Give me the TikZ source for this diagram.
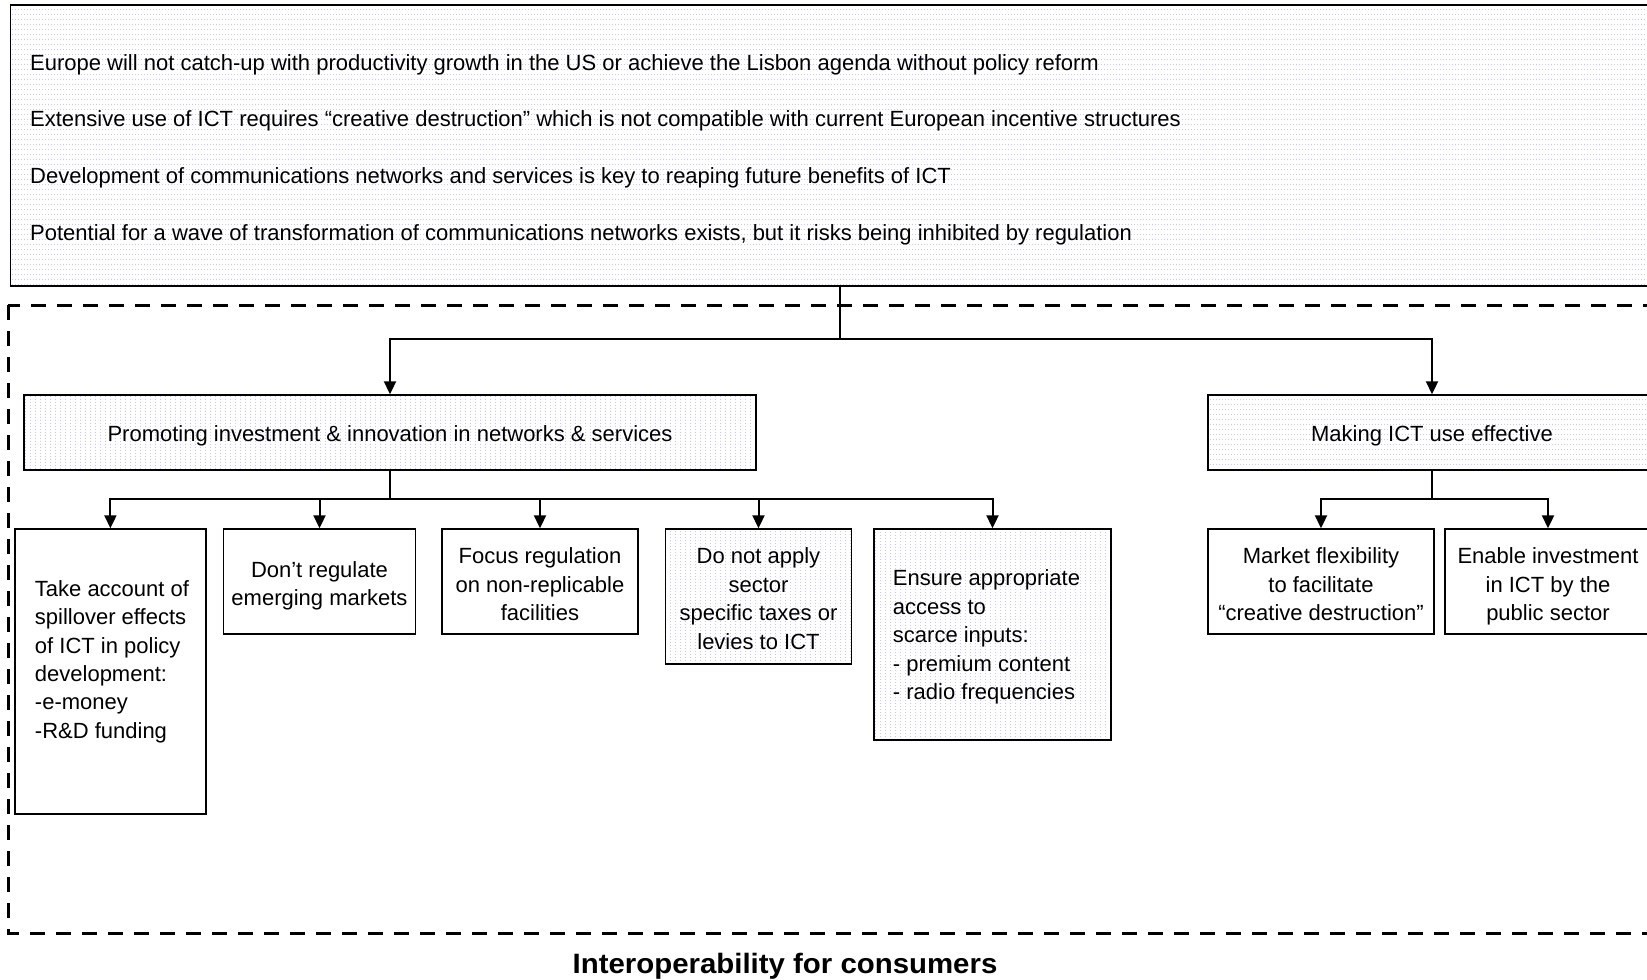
\documentclass[tikz,border=0pt]{standalone}
\usepackage{fontspec}
\usepackage{graphicx}
\setmainfont{Liberation Sans}
\usetikzlibrary{arrows.meta,patterns}

% light blue dotted fills: rows of dots and columns of dots
\pgfdeclarepatternformonly{hdots}{\pgfpointorigin}{\pgfpoint{3.3pt}{5pt}}{\pgfpoint{3.3pt}{5pt}}%
  {\pgfpathrectangle{\pgfpointorigin}{\pgfpoint{1.2pt}{0.8pt}}\pgfusepath{fill}}
\pgfdeclarepatternformonly{vdots}{\pgfpointorigin}{\pgfpoint{5pt}{3.3pt}}{\pgfpoint{5pt}{3.3pt}}%
  {\pgfpathrectangle{\pgfpointorigin}{\pgfpoint{0.8pt}{1.2pt}}\pgfusepath{fill}}
\definecolor{dotblue}{RGB}{172,172,245}

\newcommand\boxfont{\fontsize{22pt}{28.4pt}\selectfont}
\newcommand\capfont{\fontsize{28pt}{32pt}\selectfont\bfseries}

\tikzset{
  plainbox/.style={draw, line width=1.4pt, inner sep=0pt, align=center, font=\boxfont},
  rowbox/.style={plainbox, pattern=hdots, pattern color=dotblue},
  colbox/.style={plainbox, pattern=vdots, pattern color=dotblue},
  strutted/.style={execute at begin node={\rule{0pt}{22pt}}},
  bodytext/.style={inner sep=0pt, font=\boxfont},
  boxtext/.style={bodytext, anchor=north, align=center},
  conn/.style={line width=2pt, -{Triangle[width=12pt,length=13pt]}},
  frame/.style={line width=3pt, dash pattern=on 15pt off 11pt},
}

\begin{document}
\begin{tikzpicture}[x=1pt,y=-1pt]
\useasboundingbox (0,0) rectangle (1647,980);
\fill[white] (0,0) rectangle (1647,980);
\clip (0,0) rectangle (1647,980);

% outer dashed frame
\draw[frame] (8,305) rectangle (1700,933);

% statement box
\node[rowbox, line width=1.6pt, minimum width=1659pt, minimum height=281pt] (top) at (840,145.5) {};
\node[bodytext, anchor=base west] (s1) at (30,70) {Europe will not catch-up with productivity growth in the US or achieve the Lisbon agenda without policy reform};
\node[bodytext, anchor=base west] (s2) at (30,126.7) {Extensive use of ICT requires “creative destruction” which is not compatible with current European incentive structures};
\node[bodytext, anchor=base west] (s3) at (30,183.4) {Development of communications networks and services is key to reaping future benefits of ICT};
\node[bodytext, anchor=base west] (s4) at (30,240) {Potential for a wave of transformation of communications networks exists, but it risks being inhibited by regulation};

% second level
\node[colbox, strutted, minimum width=732pt, minimum height=75pt] (promo) at (390,432.5) {Promoting investment \& innovation in networks \& services};
\node[rowbox, strutted, minimum width=448pt, minimum height=75pt] (ictuse) at (1432,432.5) {Making ICT use effective};

% third level: frames
\node[plainbox, minimum width=191pt, minimum height=285pt] (spill) at (110.4,671.5) {};
\node[plainbox, minimum width=192pt, minimum height=105pt] (dontreg) at (319.5,581.5) {};
\node[plainbox, minimum width=196pt, minimum height=105pt] (focus) at (540,581.5) {};
\node[colbox, minimum width=186pt, minimum height=135pt] (notax) at (758.5,596.5) {};
\node[colbox, minimum width=237pt, minimum height=211pt] (ensure) at (992.5,634.5) {};
\node[plainbox, minimum width=226pt, minimum height=105pt] (market) at (1321,581.5) {};
\node[plainbox, minimum width=206pt, minimum height=105pt] (enable) at (1548,581.5) {};

% third level: texts
\node[boxtext, align=left] (spilltext) at (112,580.2) {Take account of\\spillover effects\\of ICT in policy\\development:\\-e-money\\-R\&D funding};
\node[boxtext] (dontregtext) at (319.5,561.3) {Don’t regulate\\emerging markets};
\node[boxtext] (focustext) at (540,547.7) {Focus regulation\\on non-replicable\\facilities};
\node[boxtext] (notaxtext) at (758.5,547.7) {Do not apply\\sector\\specific taxes or\\levies to ICT};
\node[boxtext, align=left] (ensuretext) at (986.5,569.7) {Ensure appropriate\\access to\\scarce inputs:\\- premium content\\- radio frequencies};
\node[boxtext] (markettext) at (1321,547.7) {Market flexibility\\to facilitate\\“creative destruction”};
\node[boxtext] (enabletext) at (1548,547.7) {Enable investment\\in ICT by the\\public sector};

% bus lines
\coordinate (busT) at (0,339);
\coordinate (busA) at (0,499);

% connectors
\draw[conn] (top.south) |- (promo.north |- busT) -- (promo.north);
\draw[conn] (top.south) |- (ictuse.north |- busT) -- (ictuse.north);
\foreach \n in {spill,dontreg,focus,notax,ensure}
  \draw[conn] (promo.south) |- (\n.north |- busA) -- (\n.north);
\foreach \n in {market,enable}
  \draw[conn] (ictuse.south) |- (\n.north |- busA) -- (\n.north);

% caption under the frame
\node[font=\capfont, inner sep=0pt, anchor=base] (caption) at (785,973) {\scalebox{1.05}[1]{Interoperability for consumers}};
\end{tikzpicture}
\end{document}
